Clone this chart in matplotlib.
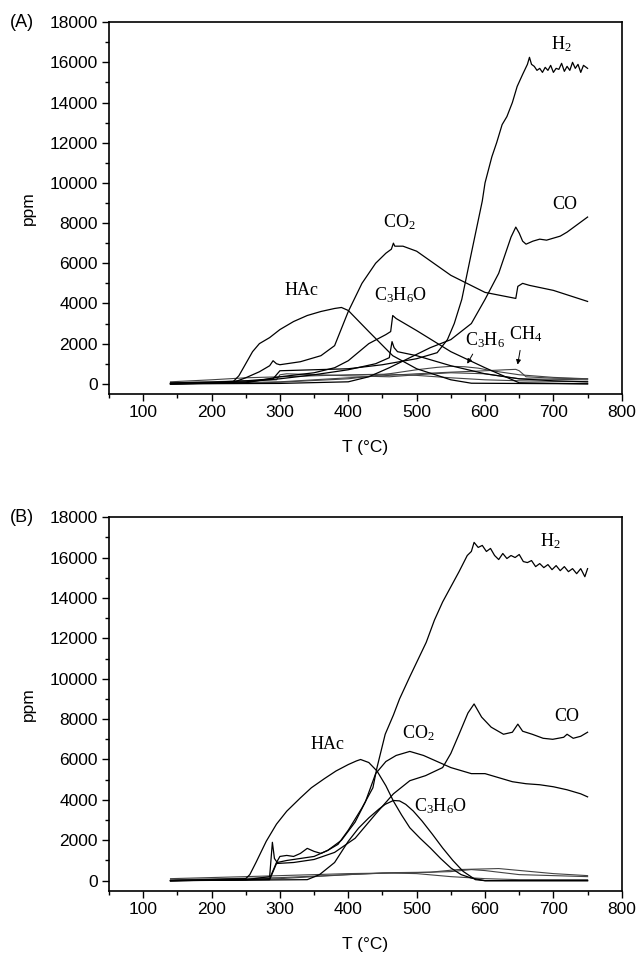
import matplotlib.pyplot as plt
from matplotlib.ticker import MultipleLocator

plt.rcParams['font.family'] = ['Liberation Sans', 'DejaVu Sans']
plt.rcParams['mathtext.fontset'] = 'custom'
plt.rcParams['mathtext.rm'] = 'Liberation Serif'
plt.rcParams['mathtext.it'] = 'Liberation Serif:italic'

# ---- panel (A) ----
a_h2_t = [140, 200, 250, 290, 300, 350, 400, 450, 500, 530, 545, 555, 566, 580, 596, 600, 610, 617, 625, 632,
          640, 647, 655, 662, 665, 668, 672, 676, 680, 684, 688, 692, 696, 700, 704, 708, 712, 716, 720, 724,
          728, 732, 736, 740, 744, 748, 750]
a_h2 = [50, 80, 150, 250, 650, 700, 750, 950, 1250, 1550, 2200, 3000, 4200, 6500, 9100, 10000, 11300, 12000, 12900, 13300,
        14000, 14800, 15400, 15900, 16250, 15900, 15800, 15600, 15700, 15500, 15750, 15600, 15850, 15500, 15700, 15650, 15950, 15550, 15800, 15600,
        16000, 15700, 15900, 15500, 15850, 15750, 15700]

a_co_t = [140, 300, 400, 430, 460, 490, 520, 550, 580, 600, 620, 638, 645, 650, 655, 660, 670, 680, 690, 700,
          710, 720, 730, 740, 750]
a_co = [0, 20, 100, 350, 800, 1300, 1800, 2200, 3000, 4200, 5500, 7300, 7800, 7500, 7100, 6950, 7100, 7200, 7150, 7250,
        7350, 7550, 7800, 8050, 8300]

a_co2_t = [140, 230, 250, 270, 285, 290, 295, 300, 330, 360, 380, 400, 420, 440, 455, 463, 466, 468, 480, 500,
           550, 600, 645, 648, 655, 665, 700, 750]
a_co2 = [0, 50, 300, 600, 900, 1150, 1000, 950, 1100, 1400, 1900, 3600, 5000, 6000, 6500, 6700, 7000, 6850, 6850, 6600,
         5400, 4550, 4250, 4850, 5000, 4900, 4650, 4100]

a_hac_t = [140, 230, 240, 250, 260, 270, 285, 300, 320, 340, 360, 380, 390, 400, 430, 465, 500, 550, 580, 750]
a_hac = [0, 50, 400, 1000, 1600, 2000, 2300, 2700, 3100, 3400, 3600, 3750, 3800, 3650, 2600, 1400, 750, 200, 30, 0]

a_ace_t = [140, 250, 300, 350, 380, 400, 430, 455, 462, 465, 470, 500, 550, 600, 640, 650, 750]
a_ace = [0, 50, 350, 550, 800, 1150, 2000, 2450, 2600, 3400, 3250, 2650, 1600, 800, 200, 50, 0]

a_x_t = [140, 250, 300, 350, 400, 440, 460, 464, 467, 472, 500, 550, 600, 650, 700, 750]
a_x = [0, 100, 250, 450, 700, 1000, 1300, 2100, 1800, 1600, 1400, 900, 500, 250, 150, 100]

a_c3h6_t = [140, 250, 300, 400, 450, 500, 530, 550, 570, 590, 610, 650, 700, 750]
a_c3h6 = [0, 30, 80, 250, 450, 700, 820, 870, 850, 780, 650, 450, 320, 250]

a_ch4_t = [140, 300, 400, 500, 550, 600, 630, 645, 650, 660, 700, 750]
a_ch4 = [0, 100, 300, 500, 580, 650, 700, 720, 650, 350, 280, 250]

a_l1_t = [140, 200, 250, 300, 350, 400, 460, 500, 550, 600, 650, 750]
a_l1 = [100, 200, 300, 350, 400, 450, 480, 420, 300, 200, 150, 100]
a_l2_t = [140, 250, 295, 300, 310, 400, 460, 500, 550, 600, 650, 750]
a_l2 = [50, 150, 200, 450, 500, 400, 350, 450, 550, 500, 250, 200]

# ---- panel (B) ----
b_h2_t = [140, 250, 285, 295, 300, 310, 320, 330, 340, 350, 360, 370, 385, 400, 420, 436, 442, 454, 466, 475,
          490, 502, 514, 526, 538, 550, 562, 574, 580, 584, 590, 596, 602, 608, 614, 620, 626, 632, 638, 644,
          650, 656, 662, 668, 674, 680, 686, 692, 698, 704, 710, 716, 722, 728, 734, 740, 746, 750]
b_h2 = [0, 50, 100, 900, 1200, 1250, 1200, 1350, 1600, 1450, 1350, 1500, 1800, 2500, 3600, 4600, 5600, 7250, 8200, 9000,
        10100, 10950, 11800, 12900, 13800, 14550, 15300, 16100, 16300, 16750, 16500, 16600, 16300, 16450, 16100, 15900, 16200, 15950, 16100, 16000,
        16150, 15800, 15750, 15850, 15550, 15700, 15500, 15650, 15400, 15600, 15350, 15550, 15300, 15450, 15200, 15450, 15050, 15450]

b_co2_t = [140, 250, 285, 289, 292, 296, 310, 330, 350, 370, 390, 410, 425, 440, 455, 470, 490, 510, 530, 550,
           570, 580, 600, 620, 640, 660, 680, 700, 720, 740, 750]
b_co2 = [0, 50, 200, 1900, 1100, 900, 1000, 1100, 1200, 1500, 2000, 2900, 3900, 5300, 5900, 6200, 6400, 6200, 5900, 5600,
         5400, 5300, 5300, 5100, 4900, 4800, 4750, 4650, 4500, 4300, 4150]

b_co_t = [140, 285, 295, 320, 350, 380, 410, 440, 466, 490, 513, 538, 550, 562, 575, 584, 595, 609, 627, 640,
          648, 655, 669, 685, 699, 715, 720, 729, 740, 750]
b_co = [0, 50, 850, 900, 1050, 1400, 2100, 3300, 4300, 4950, 5200, 5600, 6300, 7250, 8300, 8750, 8100, 7600, 7250, 7350,
        7750, 7400, 7250, 7050, 7000, 7100, 7250, 7050, 7150, 7350]

b_hac_t = [140, 250, 256, 265, 280, 295, 310, 330, 346, 365, 382, 400, 412, 418, 430, 442, 455, 466, 478, 490,
           505, 520, 535, 550, 565, 580, 600, 750]
b_hac = [0, 100, 300, 900, 1950, 2800, 3440, 4100, 4600, 5050, 5430, 5750, 5930, 6000, 5850, 5430, 4700, 3940, 3250, 2620,
         2100, 1620, 1100, 630, 300, 130, 0, 0]

b_ace_t = [140, 340, 358, 380, 400, 415, 430, 445, 454, 466, 475, 484, 495, 508, 523, 538, 553, 568, 586, 600, 750]
b_ace = [0, 50, 300, 900, 1950, 2600, 3110, 3550, 3780, 3970, 3950, 3780, 3450, 2950, 2300, 1620, 1000, 460, 50, 0, 0]

b_l1_t = [140, 300, 400, 450, 500, 550, 580, 600, 650, 700, 750]
b_l1 = [0, 100, 300, 380, 400, 450, 550, 500, 300, 250, 200]
b_l2_t = [140, 250, 300, 400, 460, 500, 550, 600, 650, 750]
b_l2 = [100, 200, 250, 350, 380, 350, 200, 100, 50, 50]
b_l3_t = [140, 300, 400, 470, 520, 560, 620, 700, 750]
b_l3 = [50, 150, 300, 400, 420, 550, 600, 350, 250]

fig = plt.figure(figsize=(6.41, 9.63), dpi=100)
ax1 = fig.add_axes([0.170, 0.591, 0.800, 0.386])
ax2 = fig.add_axes([0.170, 0.075, 0.800, 0.388])

main = dict(color='black', lw=0.9)
back = dict(color='#444444', lw=0.8)

ax1.plot(a_l1_t, a_l1, **back)
ax1.plot(a_l2_t, a_l2, **back)
ax1.plot(a_c3h6_t, a_c3h6, **back)
ax1.plot(a_ch4_t, a_ch4, **back)
ax1.plot(a_x_t, a_x, **main)
ax1.plot(a_ace_t, a_ace, **main)
ax1.plot(a_hac_t, a_hac, **main)
ax1.plot(a_co2_t, a_co2, **main)
ax1.plot(a_co_t, a_co, **main)
ax1.plot(a_h2_t, a_h2, **main)

ax2.plot(b_l1_t, b_l1, **back)
ax2.plot(b_l2_t, b_l2, **back)
ax2.plot(b_l3_t, b_l3, **back)
ax2.plot(b_ace_t, b_ace, **main)
ax2.plot(b_hac_t, b_hac, **main)
ax2.plot(b_co_t, b_co, **main)
ax2.plot(b_co2_t, b_co2, **main)
ax2.plot(b_h2_t, b_h2, **main)

lab = dict(family='Liberation Serif', fontsize=13, ha='center', va='center')
ax1.text(712, 16900, 'H$_2$', **lab)
ax1.text(716, 8900, 'CO', **lab)
ax1.text(474, 8050, 'CO$_2$', **lab)
ax1.text(332, 4620, 'HAc', **lab)
ax1.text(476, 4400, 'C$_3$H$_6$O', **lab)
ax1.text(600, 2150, 'C$_3$H$_6$', **lab)
ax1.text(660, 2450, 'CH$_4$', **lab)
arr = dict(arrowstyle='-|>', color='black', lw=0.7, mutation_scale=7)
ax1.annotate('', xy=(572, 880), xytext=(584, 1600), arrowprops=arr)
ax1.annotate('', xy=(647, 820), xytext=(652, 1800), arrowprops=arr)

ax2.text(696, 16800, 'H$_2$', **lab)
ax2.text(720, 8150, 'CO', **lab)
ax2.text(502, 7300, 'CO$_2$', **lab)
ax2.text(369, 6750, 'HAc', **lab)
ax2.text(535, 3700, 'C$_3$H$_6$O', **lab)

for ax in (ax1, ax2):
    ax.set_xlim(50, 800)
    ax.set_ylim(-500, 18000)
    ax.xaxis.set_major_locator(MultipleLocator(100))
    ax.xaxis.set_minor_locator(MultipleLocator(50))
    ax.yaxis.set_major_locator(MultipleLocator(2000))
    ax.yaxis.set_minor_locator(MultipleLocator(1000))
    ax.set_xticks([100, 200, 300, 400, 500, 600, 700, 800])
    ax.tick_params(which='major', direction='out', length=5, width=1, labelsize=12.5, pad=3)
    ax.tick_params(which='minor', direction='out', length=3, width=1)
    for s in ax.spines.values():
        s.set_linewidth(1.2)
    ax.set_xlabel('T (°C)', fontsize=12.5)
    ax.xaxis.set_label_coords(0.5, -0.125)
    ax.set_ylabel('ppm', fontsize=12.5)
    ax.yaxis.set_label_coords(-0.142, 0.5)

# panel letters, level with the 18000 tick
fig.text(0.016, 0.977, '(A)', fontsize=13, ha='left', va='center')
fig.text(0.016, 0.463, '(B)', fontsize=13, ha='left', va='center')

fig.savefig('out.png', dpi=100)
